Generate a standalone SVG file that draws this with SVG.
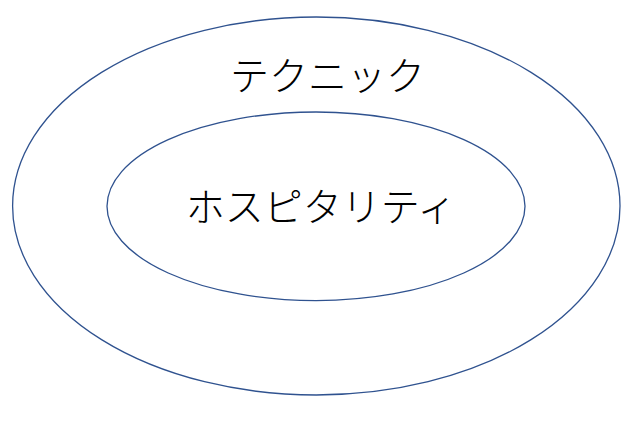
<svg xmlns="http://www.w3.org/2000/svg" width="640" height="421" viewBox="0 0 640 421">
<style>
.ring{fill:none;stroke:#2F528F;stroke-width:1.3}
.lbl{font-family:"Noto Sans CJK JP","Noto Sans",sans-serif;font-size:39px;font-weight:300;fill:#000;text-anchor:middle}
</style>
<rect width="640" height="421" fill="#fff"/>
<g id="outer">
<ellipse class="ring" cx="316.3" cy="206" rx="303.7" ry="189"/>
<text class="lbl" x="327.5" y="89.5">テクニック</text>
</g>
<g id="inner">
<ellipse class="ring" cx="316" cy="206.3" rx="209" ry="94.3"/>
<text class="lbl" x="321" y="220.5">ホスピタリティ</text>
</g>
<g id="connectors"></g>
</svg>
